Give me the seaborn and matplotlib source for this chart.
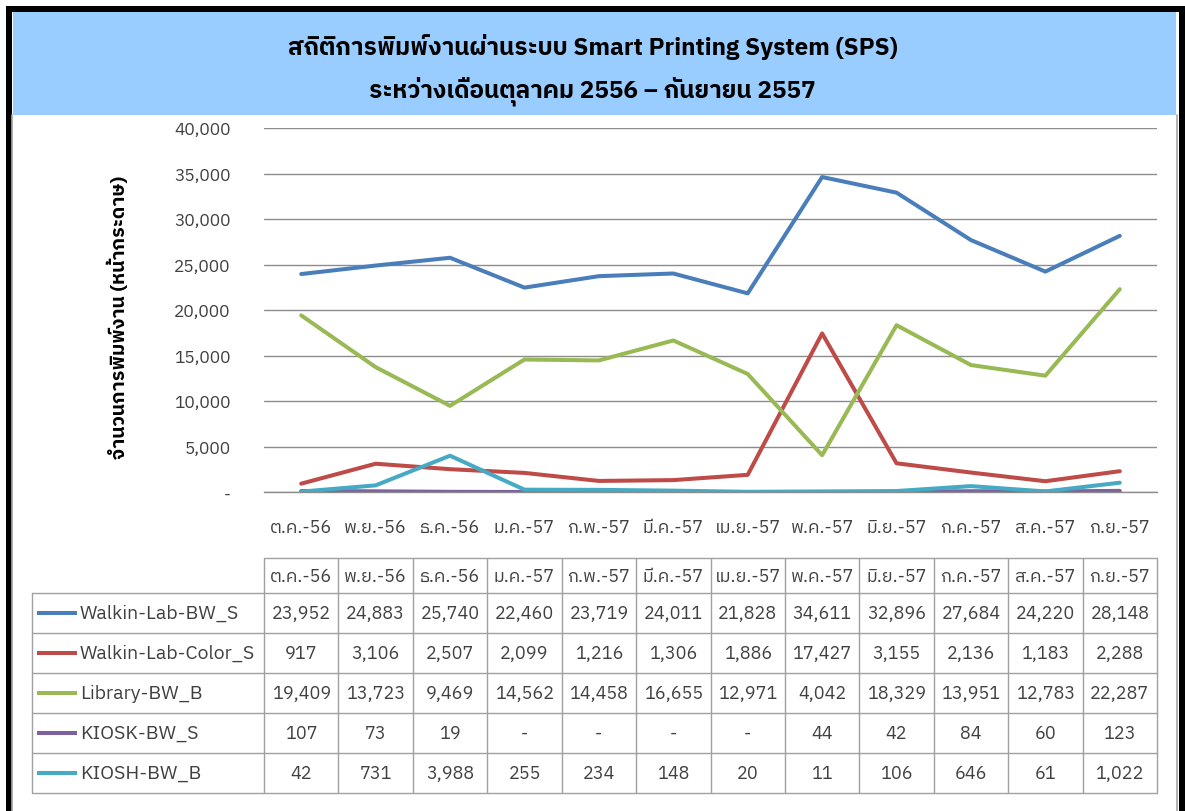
import numpy as np
import pandas as pd
import matplotlib
matplotlib.use("Agg")
import matplotlib.pyplot as plt
import seaborn as sns
from matplotlib import font_manager
from matplotlib.patches import Rectangle
from matplotlib.lines import Line2D

# -------------------------
# Data
# -------------------------
months = ["ต.ค.-56", "พ.ย.-56", "ธ.ค.-56", "ม.ค.-57", "ก.พ.-57", "มี.ค.-57",
          "เม.ย.-57", "พ.ค.-57", "มิ.ย.-57", "ก.ค.-57", "ส.ค.-57", "ก.ย.-57"]

series_names = ["Walkin-Lab-BW_S", "Walkin-Lab-Color_S", "Library-BW_B",
                "KIOSK-BW_S", "KIOSH-BW_B"]

walkin_bw = [23952, 24883, 25740, 22460, 23719, 24011, 21828, 34611, 32896, 27684, 24220, 28148]
walkin_color = [917, 3106, 2507, 2099, 1216, 1306, 1886, 17427, 3155, 2136, 1183, 2288]
library_bw = [19409, 13723, 9469, 14562, 14458, 16655, 12971, 4042, 18329, 13951, 12783, 22287]
kiosk_bw = [107, 73, 19, 0, 0, 0, 0, 44, 42, 84, 60, 123]
kiosh_bw = [42, 731, 3988, 255, 234, 148, 20, 11, 106, 646, 61, 1022]

colors = ["#4A7EBB", "#BE4B48", "#98B954", "#7D60A0", "#46AAC5"]

title_lines = ["สถิติการพิมพ์งานผ่านระบบ Smart Printing System (SPS)",
               "ระหว่างเดือนตุลาคม 2556 – กันยายน 2557"]
y_label = "จำนวนการพิมพ์งาน (หน้ากระดาษ)"
y_ticks = [0, 5000, 10000, 15000, 20000, 25000, 30000, 35000, 40000]

values = [walkin_bw, walkin_color, library_bw, kiosk_bw, kiosh_bw]

df = pd.DataFrame({
    "month": np.tile(np.arange(len(months)), len(series_names)),
    "series": np.repeat(series_names, len(months)),
    "pages": np.concatenate(values),
})

# -------------------------
# Fonts
# -------------------------
sns.set_theme(style="white")
thai_fonts = sorted({f.name for f in font_manager.fontManager.ttflist if "Thai" in f.name})
plt.rcParams["font.family"] = thai_fonts[:1] + ["DejaVu Sans"]
txt = "#404040"

W, H = 1185, 812
fig = plt.figure(figsize=(W / 100, H / 100), dpi=100)


def fx(px):
    return px / W


def fy(py):
    return 1 - py / H


# frame + banner
fig.patches.append(Rectangle((fx(13), fy(116)), fx(1163), 103 / H, transform=fig.transFigure,
                             facecolor="#99CCFF", edgecolor="none", zorder=0))
for x0, y0, w, h in [(6, 7, 6, 805), (6, 7, 1179, 6), (1179, 7, 6, 805)]:
    fig.patches.append(Rectangle((fx(x0), fy(y0 + h)), w / W, h / H, transform=fig.transFigure,
                                 facecolor="black", edgecolor="none", zorder=1))
for xg in (12, 1177):
    fig.add_artist(Line2D([fx(xg), fx(xg)], [fy(116), 0], color="#A6A6A6", lw=1.2))

fig.text(0.5, fy(47), title_lines[0], ha="center", va="center", fontsize=17.5, fontweight="bold", color="black")
fig.text(0.5, fy(91), title_lines[1], ha="center", va="center", fontsize=17.5, fontweight="bold", color="black")

# -------------------------
# Line chart
# -------------------------
ax = fig.add_axes([fx(264), fy(493), fx(1157) - fx(264), (493 - 129) / H])
sns.lineplot(data=df, x="month", y="pages", hue="series", hue_order=series_names,
             palette=colors, linewidth=2.9, legend=False, ax=ax)
ax.set_xlim(-0.5, len(months) - 0.5)
ax.set_ylim(0, 40000)
ax.set_yticks(y_ticks)
ax.set_yticklabels(["-" if t == 0 else f"{t:,}" for t in y_ticks], fontsize=12.5, color=txt)
ax.yaxis.grid(True, color="#8C8C8C", lw=1)
ax.set_xticks(np.arange(len(months) + 1) - 0.5)
ax.set_xticklabels([])
ax.set_xticks(np.arange(len(months)), minor=True)
ax.set_xticklabels(months, minor=True, fontsize=13, color=txt)
ax.tick_params(axis="x", which="major", length=7, color="#8C8C8C", width=1, direction="out")
ax.tick_params(axis="x", which="minor", length=0, pad=19)
ax.tick_params(axis="y", length=8, color="#8C8C8C", width=1, direction="out", pad=16)
ax.set_xlabel("")
ax.set_ylabel("")
for s in ["left", "right", "top"]:
    ax.spines[s].set_visible(False)
ax.spines["bottom"].set_color("#8C8C8C")
ax.spines["bottom"].set_linewidth(1)
ax.set_axisbelow(True)

fig.text(fx(118), fy(317), y_label, rotation=90, ha="center", va="center",
         fontsize=14, fontweight="bold", color="black")

# -------------------------
# Data table
# -------------------------
tab = fig.add_axes([fx(264), fy(794), fx(1157) - fx(264), (794 - 559) / H])
tab.set_xlim(-0.5, len(months) - 0.5)
tab.set_ylim(794, 559)
tab.axis("off")
grid = "#A0A0A0"
unit = (1157 - 264) / len(months)
label_left = -0.5 - (264 - 32) / unit
row_edges = [559, 594, 634, 674, 714, 754, 794]

tab.plot([-0.5, 11.5], [559, 559], color=grid, lw=1, clip_on=False)
for yy in row_edges[1:]:
    tab.plot([label_left, 11.5], [yy, yy], color=grid, lw=1, clip_on=False)
for k in range(len(months) + 1):
    tab.plot([k - 0.5, k - 0.5], [559, 794], color=grid, lw=1, clip_on=False)
tab.plot([label_left, label_left], [594, 794], color=grid, lw=1, clip_on=False)

for i, m in enumerate(months):
    tab.text(i, 577, m, ha="center", va="center", fontsize=13, color=txt, clip_on=False)

for r, (name, vals, c) in enumerate(zip(series_names, values, colors)):
    yc = (row_edges[r + 1] + row_edges[r + 2]) / 2
    tab.plot([label_left + 5 / unit, label_left + 45 / unit], [yc, yc], color=c, lw=2.9,
             clip_on=False, solid_capstyle="butt")
    tab.text(label_left + 48 / unit, yc, name, ha="left", va="center", fontsize=14,
             color=txt, clip_on=False)
    for i, v in enumerate(vals):
        tab.text(i, yc, "-" if v == 0 else f"{v:,}", ha="center", va="center",
                 fontsize=13, color=txt, clip_on=False)

fig.savefig("out.png", dpi=100)
